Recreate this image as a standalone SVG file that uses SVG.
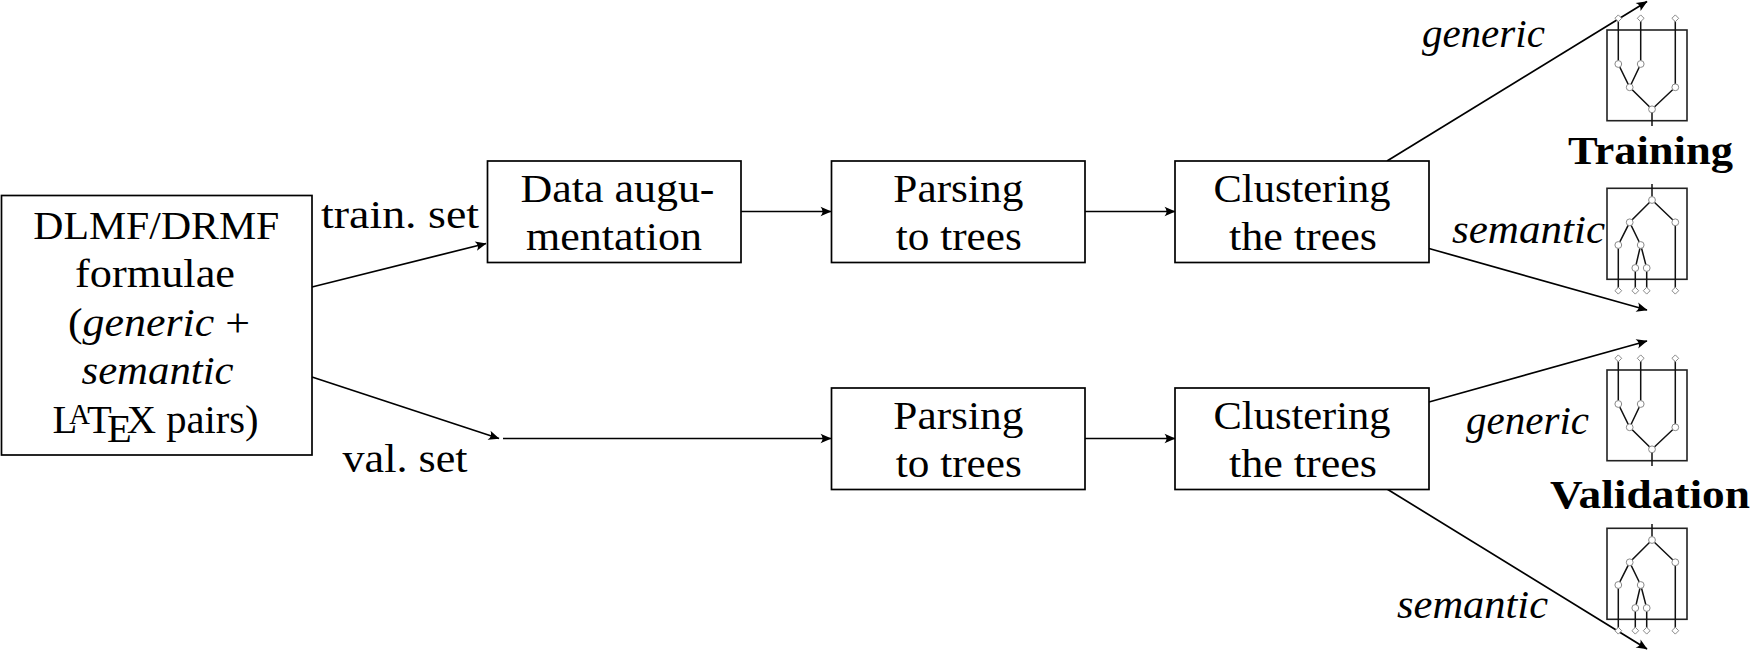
<svg xmlns="http://www.w3.org/2000/svg" xmlns:xlink="http://www.w3.org/1999/xlink" width="1752" height="651" viewBox="0 0 1752 651" font-family="Liberation Serif, DejaVu Serif, Noto Serif, serif">
<style>
.box{fill:#fff;stroke:#000;stroke-width:1.7}
.t{font-size:41px;fill:#000;text-anchor:middle}
.i{font-style:italic}
.b{font-weight:bold}
.edge{stroke:#000;stroke-width:1.7;fill:none;marker-end:url(#arr)}
.tb{fill:none;stroke:#222;stroke-width:1.6}
.tl{stroke:#111;stroke-width:1.5;fill:none}
.tn{fill:#fff;stroke:#8a8a8a;stroke-width:1}
</style>
<defs>
<marker id="arr" markerUnits="userSpaceOnUse" markerWidth="14" markerHeight="12" refX="12" refY="6" orient="auto" viewBox="0 0 14 12">
<path d="M12.5,6 L1.5,1.2 Q5.5,6 1.5,10.8 Z" fill="#000"/>
</marker>
<path id="dia" d="M0,-3.4 L3.4,0 L0,3.4 L-3.4,0 Z" class="tn"/>
<g id="treeG">
<rect class="tb" x="17" y="30" width="80" height="90.7"/>
<path class="tl" d="M28.3,18.3 V64 L39.7,87.3 L62,109.3 L85.3,87.3 V18.3 M50.7,18.3 V64 L39.7,87.3 M62,109.3 V126"/>
<circle class="tn" cx="28.3" cy="64" r="3.4"/>
<circle class="tn" cx="50.7" cy="64" r="3.4"/>
<circle class="tn" cx="39.7" cy="87.3" r="3.4"/>
<circle class="tn" cx="85.3" cy="87.3" r="3.4"/>
<circle class="tn" cx="62" cy="109.3" r="3.4"/>
<use xlink:href="#dia" x="28.3" y="18.3"/>
<use xlink:href="#dia" x="50.7" y="18.3"/>
<use xlink:href="#dia" x="85.3" y="18.3"/>
</g>
<g id="treeS">
<rect class="tb" x="17" y="18.3" width="80" height="91"/>
<path class="tl" d="M62,14 V30 L39.7,52.3 L28.3,75 V120.7 M39.7,52.3 L50.7,75 L45.3,98 V120.7 M50.7,75 L56.7,98 V120.7 M62,30 L85.3,52.3 V120.7"/>
<circle class="tn" cx="62" cy="30" r="3.4"/>
<circle class="tn" cx="39.7" cy="52.3" r="3.4"/>
<circle class="tn" cx="85.3" cy="52.3" r="3.4"/>
<circle class="tn" cx="28.3" cy="75" r="3.4"/>
<circle class="tn" cx="50.7" cy="75" r="3.4"/>
<circle class="tn" cx="45.3" cy="98" r="3.4"/>
<circle class="tn" cx="56.7" cy="98" r="3.4"/>
<use xlink:href="#dia" x="28.3" y="120.7"/>
<use xlink:href="#dia" x="45.3" y="120.7"/>
<use xlink:href="#dia" x="56.7" y="120.7"/>
<use xlink:href="#dia" x="85.3" y="120.7"/>
</g>
</defs>

<g id="connectors">
<path class="edge" d="M312,287 L486,243.5"/>
<path class="edge" d="M312,377 L499,438.5"/>
<path class="edge" d="M503,438.5 L831,438.5"/>
<path class="edge" d="M741,211.5 L831,211.5"/>
<path class="edge" d="M1085,211.5 L1175,211.5"/>
<path class="edge" d="M1085,438.5 L1175,438.5"/>
<path class="edge" d="M1387,161 L1647,1.5"/>
<path class="edge" d="M1429,248.5 L1647,310"/>
<path class="edge" d="M1429,402 L1647,341"/>
<path class="edge" d="M1387,489 L1647,649"/>
</g>

<g id="source">
<rect class="box" x="1.5" y="195.5" width="310.5" height="259.5"/>
<text class="t" x="156.3" y="238.5" textLength="246" lengthAdjust="spacingAndGlyphs">DLMF/DRMF</text>
<text class="t" x="155" y="287" textLength="160" lengthAdjust="spacingAndGlyphs">formulae</text>
<text class="t" x="159" y="335.5" textLength="182" lengthAdjust="spacingAndGlyphs">(<tspan class="i">generic</tspan> +</text>
<text class="t i" x="157.5" y="384" textLength="152" lengthAdjust="spacingAndGlyphs">semantic</text>
<text class="t" x="155.5" y="432.5" textLength="206" lengthAdjust="spacingAndGlyphs">L<tspan dx="-8" dy="-9" font-size="29">A</tspan><tspan dx="-3" dy="9">T</tspan><tspan dx="-5" dy="9">E</tspan><tspan dx="-5" dy="-9">X pairs)</tspan></text>
</g>

<g id="lbl-train"><text class="t" x="400" y="228" textLength="158" lengthAdjust="spacingAndGlyphs">train. set</text></g>
<g id="lbl-val"><text class="t" x="405" y="471.5" textLength="125" lengthAdjust="spacingAndGlyphs">val. set</text></g>

<g id="augment">
<rect class="box" x="487.5" y="161" width="253.5" height="101.5"/>
<text class="t" x="617.5" y="202" textLength="194" lengthAdjust="spacingAndGlyphs">Data augu-</text>
<text class="t" x="614" y="250" textLength="176" lengthAdjust="spacingAndGlyphs">mentation</text>
</g>

<g id="parse-train">
<rect class="box" x="831.5" y="161" width="253.5" height="101.5"/>
<text class="t" x="958.3" y="202" textLength="130" lengthAdjust="spacingAndGlyphs">Parsing</text>
<text class="t" x="958.8" y="250" textLength="126" lengthAdjust="spacingAndGlyphs">to trees</text>
</g>

<g id="cluster-train">
<rect class="box" x="1175" y="161" width="254" height="101.5"/>
<text class="t" x="1302" y="202" textLength="177" lengthAdjust="spacingAndGlyphs">Clustering</text>
<text class="t" x="1303" y="250" textLength="148" lengthAdjust="spacingAndGlyphs">the trees</text>
</g>

<g id="parse-val">
<rect class="box" x="831.5" y="388" width="253.5" height="101.5"/>
<text class="t" x="958.3" y="429" textLength="130" lengthAdjust="spacingAndGlyphs">Parsing</text>
<text class="t" x="958.8" y="477" textLength="126" lengthAdjust="spacingAndGlyphs">to trees</text>
</g>

<g id="cluster-val">
<rect class="box" x="1175" y="388" width="254" height="101.5"/>
<text class="t" x="1302" y="429" textLength="177" lengthAdjust="spacingAndGlyphs">Clustering</text>
<text class="t" x="1303" y="477" textLength="148" lengthAdjust="spacingAndGlyphs">the trees</text>
</g>

<g id="lbl-train-generic"><text class="t i" x="1483.4" y="47" textLength="123" lengthAdjust="spacingAndGlyphs">generic</text></g>
<g id="lbl-train-semantic"><text class="t i" x="1528.5" y="243" textLength="153" lengthAdjust="spacingAndGlyphs">semantic</text></g>
<g id="lbl-val-generic"><text class="t i" x="1527.5" y="434" textLength="123" lengthAdjust="spacingAndGlyphs">generic</text></g>
<g id="lbl-val-semantic"><text class="t i" x="1472.5" y="618" textLength="151" lengthAdjust="spacingAndGlyphs">semantic</text></g>

<g id="tree-train-generic" transform="translate(1590,0)"><use xlink:href="#treeG"/></g>
<g id="tree-train-semantic" transform="translate(1590,170)"><use xlink:href="#treeS"/></g>
<g id="tree-val-generic" transform="translate(1590,340)"><use xlink:href="#treeG"/></g>
<g id="tree-val-semantic" transform="translate(1590,510)"><use xlink:href="#treeS"/></g>

<g id="lbl-training"><text class="t b" x="1650.5" y="164" textLength="165" lengthAdjust="spacingAndGlyphs">Training</text></g>
<g id="lbl-validation"><text class="t b" x="1650" y="508" textLength="200" lengthAdjust="spacingAndGlyphs">Validation</text></g>
</svg>
